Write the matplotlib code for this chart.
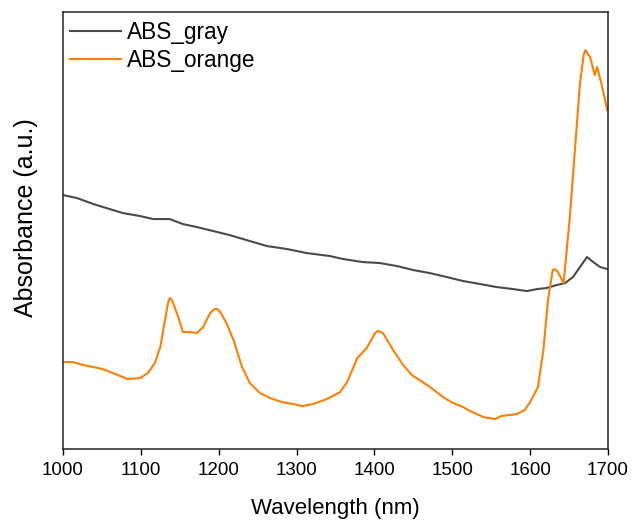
import matplotlib
matplotlib.use('Agg')
import matplotlib.pyplot as plt
import numpy as np

plt.rcParams['font.family'] = ['Liberation Sans', 'DejaVu Sans']

# ABS_gray spectrum (wavelength nm, absorbance a.u.)
wl_gray = [1000, 1018, 1039, 1060, 1077, 1099, 1116, 1137, 1154, 1172, 1193, 1214,
           1240, 1262, 1288, 1313, 1343, 1360, 1385, 1407, 1429, 1450, 1471, 1493,
           1514, 1536, 1557, 1578, 1596, 1609, 1621, 1634, 1645, 1655, 1664, 1673,
           1681, 1690, 1699]
abs_gray = [254, 251, 245, 240, 236, 233, 230, 230, 225, 222, 218, 214,
            208, 203, 200, 196, 193, 190, 187, 186, 183, 179, 176, 172,
            168, 165, 162, 160, 158, 160, 161, 164, 166, 172, 182, 192,
            187, 182, 180]

# ABS_orange spectrum
wl_orange = [1000, 1013, 1026, 1039, 1051, 1064, 1077, 1083, 1099, 1109, 1118, 1125,
             1131, 1135, 1137, 1139, 1141, 1148, 1154, 1163, 1172, 1180, 1189, 1193,
             1195, 1198, 1202, 1210,
             1219, 1230, 1240, 1253, 1266, 1281, 1296, 1307, 1321, 1339, 1356, 1365,
             1378, 1390, 1401, 1404, 1406, 1408, 1411, 1424, 1437, 1448, 1462, 1475,
             1488, 1501, 1514, 1523, 1540, 1555, 1563, 1583, 1593, 1600, 1610, 1617,
             1623, 1629, 1631, 1635, 1643, 1651, 1664, 1669, 1671, 1674, 1677, 1683,
             1686, 1692, 1699]
abs_orange = [87, 87, 84, 82, 80, 76, 72, 70, 71, 76, 86, 102,
              129, 146, 151, 150, 147, 132, 117, 117, 116, 122, 136, 139,
              140, 140, 137, 126,
              109, 82, 66, 56, 51, 47, 45, 43, 45, 50, 57, 67,
              91, 101, 116, 118, 118, 117, 116, 99, 84, 74, 67, 60,
              52, 46, 42, 38, 32, 30, 33, 35, 39, 47, 62, 99,
              149, 179, 180, 178, 166, 232, 366, 395, 399, 395, 392, 374,
              382, 364, 339]

fig = plt.figure(figsize=(6.33, 5.24), dpi=100)
ax = fig.add_axes([0.0995, 0.143, 0.861, 0.834])

ax.plot(wl_gray, abs_gray, color='#4a4a4a', lw=1.5, label='ABS_gray')
ax.plot(wl_orange, abs_orange, color='#ff8000', lw=1.5, label='ABS_orange')

ax.set_xlim(1000, 1700)
ax.set_ylim(0, 437)
ax.set_xticks(np.arange(1000, 1701, 100))
ax.set_yticks([])
ax.tick_params(axis='x', direction='out', length=4, width=1, labelsize=13.5, pad=5)
for s in ax.spines.values():
    s.set_linewidth(1.1)
    s.set_color('#222222')

ax.set_xlabel('Wavelength (nm)', fontsize=16, labelpad=14)
ax.set_ylabel('Absorbance (a.u.)', fontsize=18)
ax.yaxis.set_label_coords(-0.045, 0.53)

ax.legend(loc='upper left', bbox_to_anchor=(0.0, 0.995), frameon=False,
          fontsize=16.3, handlelength=2.25, handletextpad=0.27,
          borderaxespad=0.0, labelspacing=0.2, borderpad=0.3)

fig.savefig('out.png', dpi=100)
